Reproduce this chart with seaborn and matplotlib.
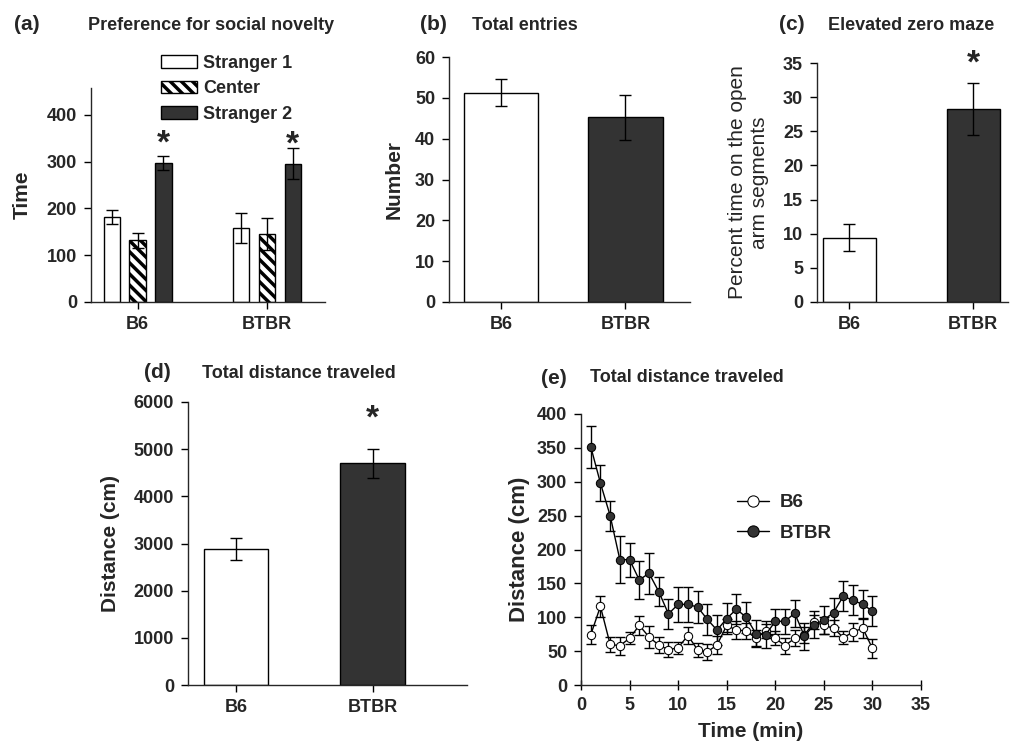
import numpy as np
import pandas as pd
import matplotlib
matplotlib.use("Agg")
import matplotlib.pyplot as plt
import seaborn as sns

# (a) preference for social novelty
groups = ["B6", "BTBR"]
chambers = ["Stranger 1", "Center", "Stranger 2"]
social_mean = {"Stranger 1": [181, 158], "Center": [132, 145], "Stranger 2": [296, 295]}
social_err = {"Stranger 1": [15, 32], "Center": [16, 35], "Stranger 2": [15, 33]}

# (b) total entries
entries_mean = [51.3, 45.2]
entries_err = [3.2, 5.5]

# (c) elevated zero maze
maze_mean = [9.4, 28.2]
maze_err = [2.0, 3.8]

# (d) total distance
dist_mean = [2880, 4700]
dist_err = [230, 310]

# (e) distance per minute
minutes = list(range(1, 31))
b6_dist = [74, 116, 60, 58, 69, 88, 71, 59, 52, 55, 73, 52, 49, 59, 88,
           81, 80, 69, 80, 69, 58, 69, 74, 93, 88, 84, 70, 78, 84, 54]
b6_sem = [14, 16, 11, 13, 9, 14, 16, 12, 11, 9, 13, 10, 12, 13, 10,
          13, 12, 12, 10, 10, 12, 12, 12, 11, 13, 12, 10, 13, 15, 14]
btbr_dist = [352, 298, 250, 185, 185, 155, 165, 138, 105, 119, 119, 115, 97, 81, 98,
             112, 100, 76, 74, 94, 94, 106, 72, 89, 96, 107, 131, 125, 119, 109]
btbr_sem = [31, 27, 22, 35, 25, 28, 30, 22, 22, 26, 26, 24, 23, 22, 23,
            22, 23, 20, 20, 18, 18, 20, 20, 20, 21, 21, 22, 22, 21, 22]

DARK = "#333333"
W, H = 1010, 744

sns.set_style("ticks")
plt.rcParams["font.family"] = ["Liberation Sans", "DejaVu Sans"]
plt.rcParams["font.weight"] = "bold"
plt.rcParams["hatch.linewidth"] = 2.5
plt.rcParams["axes.linewidth"] = 1.0

fig = plt.figure(figsize=(W / 100, H / 100), dpi=100)


def add_ax(x0, y0, x1, y1):
    # pixel box -> figure fraction
    return fig.add_axes([x0 / W, 1 - y1 / H, (x1 - x0) / W, (y1 - y0) / H])


def style(ax, ylab, ypad, yfs=15, yweight="bold"):
    sns.despine(ax=ax)
    ax.tick_params(axis="both", labelsize=13, length=5, width=1, pad=5, color="black")
    for t in ax.get_xticklabels() + ax.get_yticklabels():
        t.set_fontweight("bold")
    ax.set_xlabel("")
    ax.set_ylabel(ylab, fontsize=yfs, fontweight=yweight, labelpad=ypad)


def bar_errors(ax, means, errs, patches):
    xs = [p.get_x() + p.get_width() / 2 for p in patches]
    ax.errorbar(xs, means, yerr=errs, fmt="none", ecolor="black",
                elinewidth=1, capsize=4, capthick=1, zorder=3)


def star(ax, x, y):
    ax.text(x, y, "*", ha="center", va="center", fontsize=24,
            fontweight="bold", clip_on=False)


def label(x, y, tag, title, tx):
    fig.text(x / W, 1 - y / H, tag, fontsize=15, fontweight="bold", va="center")
    fig.text(tx / W, 1 - y / H, title, fontsize=13, fontweight="bold", va="center")


# ---- (a)
ax = add_ax(91, 88, 325, 302)
rows = []
for c in chambers:
    for g, m in zip(groups, social_mean[c]):
        rows.append({"group": g, "chamber": c, "time": m})
df_a = pd.DataFrame(rows)
sns.barplot(data=df_a, x="group", y="time", hue="chamber", hue_order=chambers,
            order=groups, width=0.6, gap=0.37, errorbar=None, legend=False,
            palette=["white", "white", DARK], edgecolor="black", linewidth=1, ax=ax)
for c, cont in zip(chambers, ax.containers):
    if c == "Center":
        for p in cont.patches:
            p.set_hatch("\\\\\\")
    bar_errors(ax, social_mean[c], social_err[c], cont.patches)
for p in ax.containers[2].patches:
    star(ax, p.get_x() + p.get_width() / 2, p.get_height() + 41)
ax.set_ylim(0, 457)
ax.set_xlim(-0.36, 1.45)
ax.set_yticks([0, 100, 200, 300, 400])
style(ax, "Time", 11)
handles = [cont.patches[0] for cont in ax.containers[:3]]
ax.legend(handles, chambers, frameon=False, loc="upper left",
          bbox_to_anchor=(161 / W, 1 - 55 / H), bbox_transform=fig.transFigure,
          prop={"size": 13, "weight": "bold"}, handlelength=2.0,
          handleheight=0.7, labelspacing=0.46, handletextpad=0.35,
          borderaxespad=0, borderpad=0)
label(14, 25, "(a)", "Preference for social novelty", 88)

# ---- (b)
ax = add_ax(449, 57, 690, 302)
df_b = pd.DataFrame({"group": groups, "n": entries_mean})
sns.barplot(data=df_b, x="group", y="n", hue="group", palette=["white", DARK],
            width=0.6, errorbar=None, legend=False, edgecolor="black", linewidth=1, ax=ax)
bar_errors(ax, entries_mean, entries_err, ax.patches)
ax.set_ylim(0, 60)
ax.set_xlim(-0.42, 1.52)
ax.set_yticks(range(0, 61, 10))
style(ax, "Number", 8)
label(420, 25, "(b)", "Total entries", 472)

# ---- (c)
ax = add_ax(817, 63, 1008, 302)
df_c = pd.DataFrame({"group": groups, "pct": maze_mean})
sns.barplot(data=df_c, x="group", y="pct", hue="group", palette=["white", DARK],
            width=0.43, errorbar=None, legend=False, edgecolor="black", linewidth=1, ax=ax)
bar_errors(ax, maze_mean, maze_err, ax.patches)
star(ax, 1, 34.8)
ax.set_ylim(0, 35)
ax.set_xlim(-0.26, 1.28)
ax.set_yticks(range(0, 36, 5))
style(ax, "Percent time on the open\narm segments", 10, yfs=15, yweight="normal")
label(779, 25, "(c)", "Elevated zero maze", 828)

# ---- (d)
ax = add_ax(188, 402, 467, 685)
df_d = pd.DataFrame({"group": groups, "dist": dist_mean})
sns.barplot(data=df_d, x="group", y="dist", hue="group", palette=["white", DARK],
            width=0.47, errorbar=None, legend=False, edgecolor="black", linewidth=1, ax=ax)
bar_errors(ax, dist_mean, dist_err, ax.patches)
star(ax, 1, 5645)
ax.set_ylim(0, 6000)
ax.set_xlim(-0.35, 1.69)
ax.set_yticks(range(0, 6001, 1000))
style(ax, "Distance (cm)", 10)
label(144, 373, "(d)", "Total distance traveled", 202)

# ---- (e)
ax = add_ax(581, 414, 921, 685)
df_e = pd.DataFrame({
    "min": minutes * 2,
    "dist": b6_dist + btbr_dist,
    "strain": ["B6"] * len(minutes) + ["BTBR"] * len(minutes),
})
ax.errorbar(minutes, btbr_dist, yerr=btbr_sem, fmt="none", ecolor="black",
            elinewidth=1, capsize=3.5, capthick=1, zorder=1)
ax.errorbar(minutes, b6_dist, yerr=b6_sem, fmt="none", ecolor="black",
            elinewidth=1, capsize=3.5, capthick=1, zorder=1)
sns.lineplot(data=df_e, x="min", y="dist", hue="strain", style="strain",
             palette={"B6": "black", "BTBR": "black"}, dashes=False,
             markers={"B6": "o", "BTBR": "o"}, markersize=6, linewidth=1,
             legend=False, ax=ax)
for line, fc in zip(ax.lines[-2:], ["white", DARK]):
    line.set_markerfacecolor(fc)
    line.set_markeredgecolor("black")
    line.set_zorder(3)
ax.set_xlim(0, 35)
ax.set_ylim(0, 400)
ax.set_xticks(range(0, 36, 5))
ax.set_yticks(range(0, 401, 50))
style(ax, "Distance (cm)", 5, yfs=16)
ax.tick_params(axis="x", direction="inout", length=7)
ax.set_xlabel("Time (min)", fontsize=15, fontweight="bold", labelpad=6)
ax.legend(ax.lines[-2:], ["B6", "BTBR"], frameon=False, loc="upper left",
          bbox_to_anchor=(737 / W, 1 - 494 / H), bbox_transform=fig.transFigure,
          prop={"size": 13.5, "weight": "bold"}, handlelength=1.7, markerscale=1.35,
          labelspacing=0.72, handletextpad=0.6, borderaxespad=0, borderpad=0)
label(541, 378, "(e)", "Total distance traveled", 590)

fig.savefig("out.png", dpi=100)
